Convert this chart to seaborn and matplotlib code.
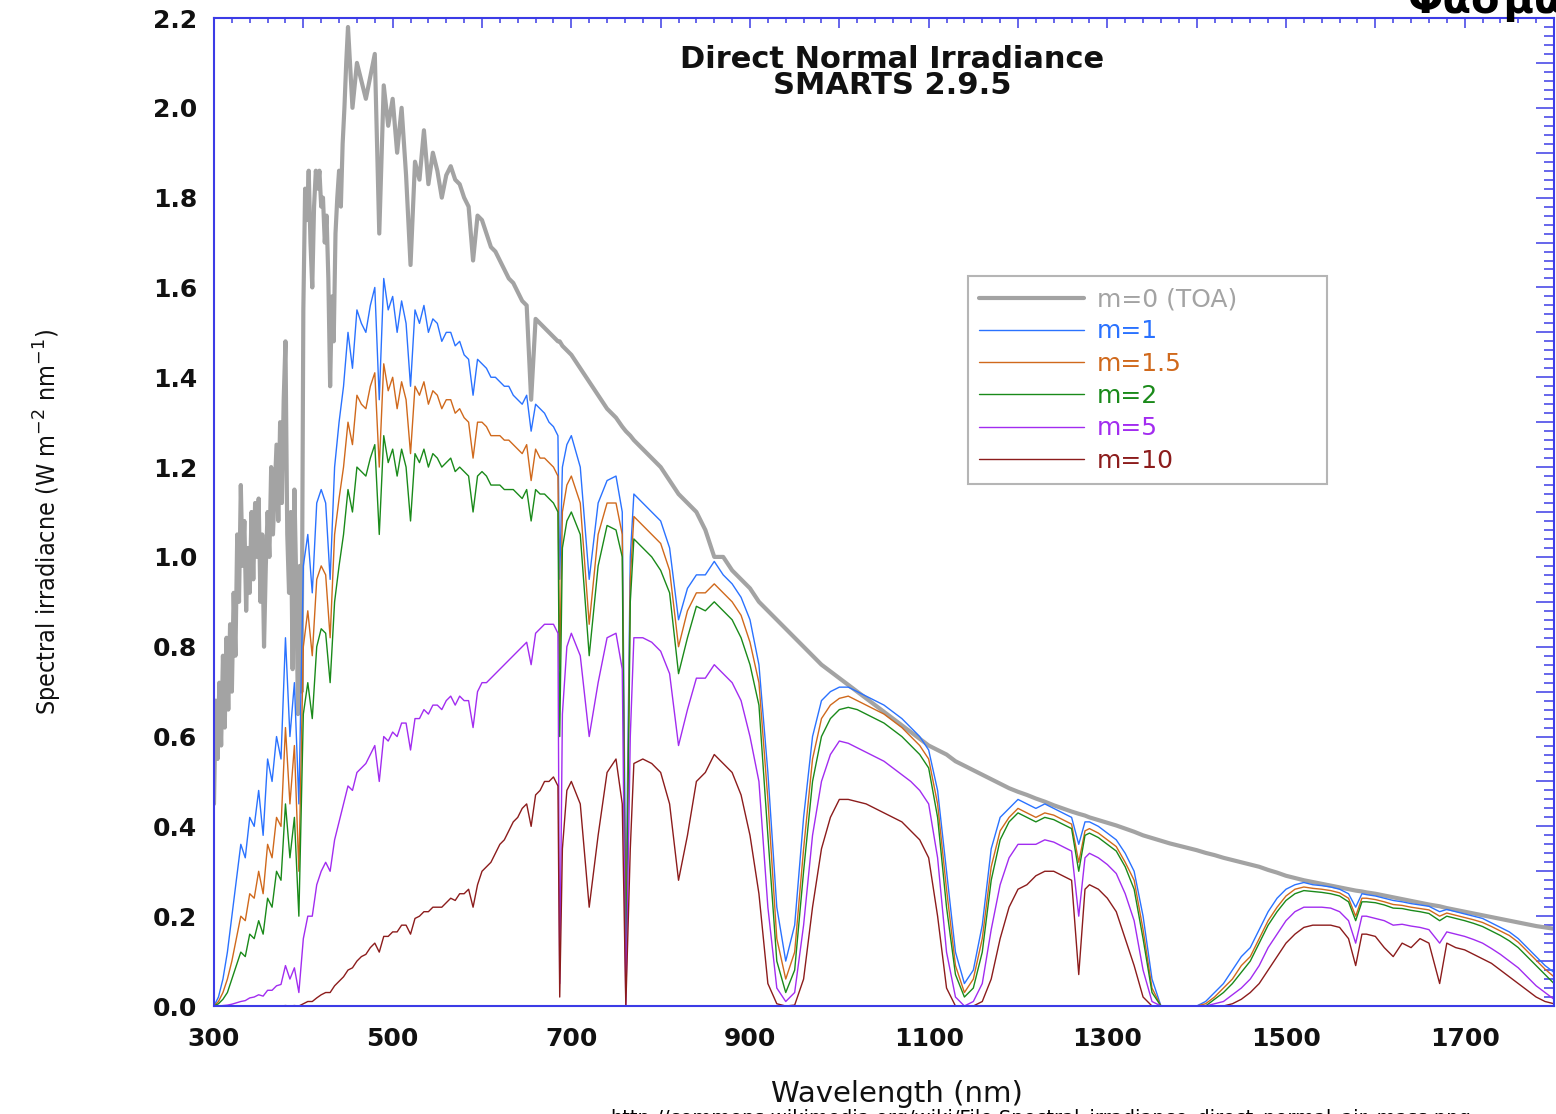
import matplotlib
matplotlib.use("Agg")
import matplotlib.pyplot as plt
import seaborn as sns
import pandas as pd
from matplotlib.ticker import MultipleLocator, FuncFormatter
from matplotlib.lines import Line2D

# ---------------- data ----------------
wavelength_nm = [
    300, 305, 310, 315, 320, 325, 330, 335, 340, 345,
    350, 355, 360, 365, 370, 375, 380, 385, 390, 395,
    400, 405, 410, 415, 420, 425, 430, 435, 440, 445,
    450, 455, 460, 465, 470, 475, 480, 485, 490, 495,
    500, 505, 510, 515, 520, 525, 530, 535, 540, 545,
    550, 555, 560, 565, 570, 575, 580, 585, 590, 595,
    600, 605, 610, 615, 620, 625, 630, 635, 640, 645,
    650, 655, 660, 665, 670, 675, 680, 685, 687, 690,
    695, 700, 710, 720, 730, 740, 750, 757, 761, 766,
    770, 780, 790, 800, 810, 820, 830, 840, 850, 860,
    870, 880, 890, 900, 910, 920, 930, 940, 950, 960,
    970, 980, 990, 1000, 1010, 1020, 1030, 1040, 1050, 1060,
    1070, 1080, 1090, 1100, 1110, 1120, 1130, 1140, 1150, 1160,
    1170, 1180, 1190, 1200, 1210, 1220, 1230, 1240, 1250, 1260,
    1268, 1275, 1280, 1290, 1300, 1310, 1320, 1330, 1340, 1350,
    1360, 1370, 1380, 1390, 1400, 1410, 1420, 1430, 1440, 1450,
    1460, 1470, 1480, 1490, 1500, 1510, 1520, 1530, 1540, 1550,
    1560, 1570, 1578, 1585, 1590, 1600, 1610, 1620, 1630, 1640,
    1650, 1660, 1672, 1680, 1690, 1700, 1710, 1720, 1730, 1740,
    1750, 1760, 1770, 1780, 1790, 1800,
]

# top-of-atmosphere spectrum: finer sampling in the UV (300-448 nm)
toa_uv_nm = [
    300, 302, 304, 306, 308, 310, 312, 314, 316, 318,
    320, 322, 324, 326, 328, 330, 332, 334, 336, 338,
    340, 342, 344, 346, 348, 350, 352, 354, 356, 358,
    360, 362, 364, 366, 368, 370, 372, 374, 376, 378,
    380, 382, 384, 386, 388, 390, 392, 394, 396, 398,
    400, 402, 404, 406, 408, 410, 412, 414, 416, 418,
    420, 422, 424, 426, 428, 430, 432, 434, 436, 438,
    440, 442, 444, 446, 448,
]
toa_uv = [
    0.45, 0.68, 0.55, 0.72, 0.58, 0.78, 0.62, 0.82, 0.66, 0.85,
    0.70, 0.92, 0.78, 1.05, 0.90, 1.16, 0.98, 1.08, 0.88, 1.02,
    0.92, 1.10, 0.95, 1.12, 1.00, 1.13, 0.90, 1.05, 0.80, 0.98,
    1.10, 1.00, 1.20, 1.05, 1.15, 1.25, 1.08, 1.30, 1.12, 1.35,
    1.48, 1.05, 0.92, 1.10, 0.75, 1.15, 0.95, 0.65, 0.98, 0.70,
    1.55, 1.82, 1.75, 1.86, 1.70, 1.60, 1.78, 1.86, 1.82, 1.86,
    1.78, 1.80, 1.70, 1.76, 1.62, 1.38, 1.58, 1.48, 1.72, 1.80,
    1.86, 1.78, 1.92, 2.00, 2.10,
]
# top-of-atmosphere spectrum on wavelength_nm from 450 nm upward
toa_vis_nir = [
    2.18, 2.00, 2.10, 2.06, 2.02, 2.07, 2.12, 1.72, 2.05, 1.96,
    2.02, 1.90, 2.00, 1.85, 1.65, 1.88, 1.84, 1.95, 1.83, 1.90,
    1.86, 1.80, 1.85, 1.87, 1.84, 1.83, 1.80, 1.78, 1.66, 1.76,
    1.75, 1.72, 1.69, 1.68, 1.66, 1.64, 1.62, 1.61, 1.59, 1.57,
    1.56, 1.35, 1.53, 1.52, 1.51, 1.50, 1.49, 1.48, 1.48, 1.47,
    1.46, 1.45, 1.42, 1.39, 1.36, 1.33, 1.31, 1.29, 1.28, 1.27,
    1.26, 1.24, 1.22, 1.20, 1.17, 1.14, 1.12, 1.10, 1.06, 1.00,
    1.00, 0.97, 0.95, 0.93, 0.90, 0.88, 0.86, 0.84, 0.82, 0.80,
    0.78, 0.76, 0.745, 0.73, 0.715, 0.70, 0.685, 0.67, 0.655, 0.64,
    0.625, 0.61, 0.595, 0.58, 0.57, 0.56, 0.545, 0.535, 0.525, 0.515,
    0.505, 0.495, 0.485, 0.477, 0.47, 0.462, 0.455, 0.447, 0.44, 0.433,
    0.428, 0.424, 0.42, 0.414, 0.408, 0.402, 0.395, 0.388, 0.38, 0.374,
    0.368, 0.362, 0.357, 0.352, 0.347, 0.341, 0.336, 0.33, 0.325, 0.32,
    0.315, 0.31, 0.303, 0.297, 0.29, 0.285, 0.28, 0.276, 0.272, 0.268,
    0.264, 0.26, 0.257, 0.255, 0.253, 0.25, 0.246, 0.242, 0.238, 0.234,
    0.23, 0.226, 0.222, 0.218, 0.214, 0.21, 0.206, 0.202, 0.198, 0.194,
    0.19, 0.186, 0.182, 0.178, 0.175, 0.172,
]

m1 = [
    0.00, 0.02, 0.06, 0.12, 0.20, 0.28, 0.36, 0.33, 0.42, 0.40,
    0.48, 0.38, 0.55, 0.50, 0.60, 0.55, 0.82, 0.60, 0.72, 0.45,
    0.98, 1.05, 0.92, 1.12, 1.15, 1.12, 0.95, 1.20, 1.30, 1.38,
    1.50, 1.42, 1.55, 1.52, 1.50, 1.56, 1.60, 1.35, 1.62, 1.55,
    1.58, 1.50, 1.57, 1.52, 1.38, 1.55, 1.52, 1.56, 1.50, 1.53,
    1.52, 1.48, 1.50, 1.50, 1.47, 1.48, 1.45, 1.44, 1.36, 1.44,
    1.43, 1.42, 1.40, 1.40, 1.39, 1.38, 1.38, 1.36, 1.35, 1.34,
    1.36, 1.28, 1.34, 1.33, 1.32, 1.30, 1.29, 1.27, 0.95, 1.20,
    1.25, 1.27, 1.20, 0.95, 1.12, 1.17, 1.18, 1.10, 0.20, 1.00,
    1.14, 1.12, 1.10, 1.08, 1.02, 0.86, 0.93, 0.96, 0.96, 0.99,
    0.96, 0.94, 0.91, 0.86, 0.76, 0.52, 0.22, 0.10, 0.18, 0.42,
    0.60, 0.68, 0.70, 0.71, 0.71, 0.70, 0.69, 0.68, 0.67, 0.655,
    0.64, 0.62, 0.60, 0.57, 0.48, 0.30, 0.12, 0.05, 0.08, 0.18,
    0.35, 0.42, 0.44, 0.46, 0.45, 0.44, 0.45, 0.44, 0.43, 0.42,
    0.36, 0.41, 0.41, 0.40, 0.385, 0.37, 0.34, 0.30, 0.20, 0.06,
    0.0, 0.0, 0.0, 0.0, 0.0, 0.01, 0.03, 0.05, 0.08, 0.11,
    0.13, 0.17, 0.21, 0.24, 0.26, 0.27, 0.275, 0.27, 0.268, 0.265,
    0.26, 0.25, 0.22, 0.25, 0.248, 0.245, 0.24, 0.235, 0.232, 0.228,
    0.225, 0.222, 0.21, 0.215, 0.21, 0.205, 0.20, 0.195, 0.185, 0.175,
    0.165, 0.15, 0.13, 0.11, 0.09, 0.075,
]

m1_5 = [
    0.00, 0.01, 0.03, 0.06, 0.10, 0.15, 0.20, 0.19, 0.25, 0.24,
    0.30, 0.25, 0.36, 0.33, 0.42, 0.40, 0.62, 0.45, 0.58, 0.30,
    0.80, 0.88, 0.78, 0.95, 0.98, 0.96, 0.82, 1.05, 1.13, 1.20,
    1.30, 1.25, 1.36, 1.34, 1.33, 1.38, 1.41, 1.20, 1.43, 1.37,
    1.40, 1.33, 1.39, 1.35, 1.23, 1.38, 1.36, 1.39, 1.34, 1.37,
    1.36, 1.33, 1.35, 1.35, 1.32, 1.33, 1.31, 1.30, 1.22, 1.30,
    1.30, 1.29, 1.27, 1.27, 1.27, 1.26, 1.26, 1.25, 1.24, 1.23,
    1.25, 1.17, 1.24, 1.22, 1.22, 1.21, 1.20, 1.18, 0.75, 1.10,
    1.16, 1.18, 1.12, 0.85, 1.05, 1.12, 1.12, 1.05, 0.10, 0.95,
    1.09, 1.07, 1.05, 1.03, 0.97, 0.80, 0.88, 0.92, 0.92, 0.94,
    0.92, 0.90, 0.87, 0.81, 0.72, 0.46, 0.15, 0.06, 0.12, 0.35,
    0.55, 0.64, 0.67, 0.685, 0.69, 0.68, 0.67, 0.66, 0.65, 0.635,
    0.62, 0.60, 0.58, 0.55, 0.45, 0.26, 0.09, 0.03, 0.06, 0.15,
    0.31, 0.39, 0.42, 0.44, 0.43, 0.42, 0.43, 0.425, 0.415, 0.405,
    0.32, 0.39, 0.395, 0.385, 0.37, 0.355, 0.32, 0.28, 0.17, 0.04,
    0.0, 0.0, 0.0, 0.0, 0.0, 0.005, 0.02, 0.04, 0.06, 0.09,
    0.11, 0.15, 0.19, 0.22, 0.245, 0.26, 0.265, 0.262, 0.26, 0.257,
    0.252, 0.24, 0.20, 0.24, 0.24, 0.237, 0.232, 0.226, 0.224, 0.22,
    0.217, 0.214, 0.20, 0.207, 0.202, 0.197, 0.192, 0.186, 0.177, 0.167,
    0.157, 0.142, 0.122, 0.102, 0.082, 0.065,
]

m2 = [
    0.00, 0.005, 0.015, 0.03, 0.06, 0.09, 0.12, 0.11, 0.16, 0.15,
    0.19, 0.16, 0.24, 0.22, 0.30, 0.28, 0.45, 0.33, 0.42, 0.20,
    0.65, 0.72, 0.64, 0.80, 0.84, 0.83, 0.72, 0.90, 0.98, 1.05,
    1.15, 1.10, 1.20, 1.19, 1.18, 1.22, 1.25, 1.05, 1.27, 1.21,
    1.24, 1.18, 1.24, 1.20, 1.08, 1.23, 1.21, 1.24, 1.20, 1.23,
    1.22, 1.20, 1.21, 1.22, 1.19, 1.20, 1.19, 1.18, 1.10, 1.18,
    1.19, 1.18, 1.16, 1.16, 1.16, 1.15, 1.15, 1.15, 1.14, 1.13,
    1.15, 1.08, 1.15, 1.14, 1.14, 1.13, 1.12, 1.10, 0.60, 1.02,
    1.08, 1.10, 1.05, 0.78, 0.98, 1.07, 1.06, 1.00, 0.05, 0.90,
    1.04, 1.02, 1.00, 0.97, 0.92, 0.74, 0.82, 0.89, 0.88, 0.90,
    0.88, 0.86, 0.82, 0.76, 0.67, 0.38, 0.10, 0.03, 0.08, 0.30,
    0.50, 0.60, 0.64, 0.66, 0.665, 0.66, 0.65, 0.64, 0.63, 0.615,
    0.60, 0.58, 0.56, 0.53, 0.42, 0.22, 0.07, 0.02, 0.04, 0.12,
    0.28, 0.37, 0.41, 0.43, 0.42, 0.41, 0.42, 0.415, 0.405, 0.395,
    0.30, 0.38, 0.385, 0.375, 0.36, 0.345, 0.31, 0.26, 0.15, 0.03,
    0.0, 0.0, 0.0, 0.0, 0.0, 0.0, 0.015, 0.03, 0.05, 0.075,
    0.10, 0.14, 0.18, 0.21, 0.235, 0.25, 0.257, 0.255, 0.253, 0.25,
    0.245, 0.232, 0.19, 0.232, 0.232, 0.23, 0.225, 0.218, 0.217, 0.213,
    0.21, 0.206, 0.19, 0.20, 0.195, 0.19, 0.184, 0.177, 0.167, 0.157,
    0.145, 0.13, 0.11, 0.09, 0.07, 0.05,
]

m5 = [
    0.0, 0.0, 0.001, 0.002, 0.004, 0.007, 0.01, 0.012, 0.018, 0.02,
    0.025, 0.022, 0.035, 0.035, 0.045, 0.048, 0.09, 0.06, 0.085, 0.03,
    0.15, 0.20, 0.20, 0.27, 0.30, 0.32, 0.30, 0.37, 0.41, 0.45,
    0.49, 0.48, 0.52, 0.53, 0.54, 0.56, 0.58, 0.50, 0.60, 0.59,
    0.61, 0.60, 0.63, 0.63, 0.57, 0.64, 0.64, 0.66, 0.65, 0.67,
    0.67, 0.66, 0.68, 0.69, 0.67, 0.69, 0.68, 0.68, 0.62, 0.70,
    0.72, 0.72, 0.73, 0.74, 0.75, 0.76, 0.77, 0.78, 0.79, 0.80,
    0.81, 0.76, 0.83, 0.84, 0.85, 0.85, 0.85, 0.83, 0.05, 0.65,
    0.80, 0.83, 0.78, 0.60, 0.72, 0.82, 0.83, 0.75, 0.0, 0.60,
    0.82, 0.82, 0.81, 0.79, 0.74, 0.58, 0.66, 0.73, 0.73, 0.76,
    0.74, 0.72, 0.68, 0.60, 0.50, 0.22, 0.04, 0.01, 0.03, 0.18,
    0.38, 0.50, 0.56, 0.59, 0.585, 0.575, 0.565, 0.555, 0.545, 0.53,
    0.515, 0.50, 0.48, 0.45, 0.33, 0.12, 0.02, 0.0, 0.01, 0.05,
    0.17, 0.27, 0.33, 0.36, 0.36, 0.36, 0.37, 0.365, 0.355, 0.345,
    0.20, 0.33, 0.34, 0.33, 0.315, 0.295, 0.25, 0.19, 0.08, 0.01,
    0.0, 0.0, 0.0, 0.0, 0.0, 0.0, 0.005, 0.01, 0.025, 0.04,
    0.06, 0.09, 0.13, 0.16, 0.19, 0.21, 0.22, 0.22, 0.22, 0.218,
    0.21, 0.19, 0.14, 0.20, 0.20, 0.195, 0.19, 0.18, 0.182, 0.178,
    0.175, 0.17, 0.14, 0.165, 0.16, 0.155, 0.148, 0.14, 0.128, 0.115,
    0.10, 0.085, 0.065, 0.045, 0.03, 0.015,
]

m10 = [
    0.0, 0.0, 0.0, 0.0, 0.0, 0.0, 0.0, 0.0, 0.0, 0.0,
    0.0, 0.0, 0.0, 0.0, 0.0, 0.0, 0.001, 0.0, 0.001, 0.0,
    0.005, 0.01, 0.01, 0.018, 0.025, 0.03, 0.03, 0.045, 0.055, 0.065,
    0.08, 0.085, 0.10, 0.11, 0.115, 0.13, 0.14, 0.12, 0.155, 0.155,
    0.165, 0.165, 0.18, 0.18, 0.16, 0.195, 0.20, 0.21, 0.21, 0.22,
    0.22, 0.22, 0.23, 0.24, 0.235, 0.25, 0.25, 0.26, 0.22, 0.27,
    0.30, 0.31, 0.32, 0.34, 0.36, 0.37, 0.39, 0.41, 0.42, 0.44,
    0.45, 0.40, 0.47, 0.48, 0.50, 0.50, 0.51, 0.49, 0.02, 0.35,
    0.48, 0.50, 0.45, 0.22, 0.38, 0.52, 0.55, 0.45, 0.0, 0.35,
    0.54, 0.55, 0.54, 0.52, 0.45, 0.28, 0.38, 0.50, 0.52, 0.56,
    0.54, 0.52, 0.47, 0.38, 0.25, 0.05, 0.005, 0.0, 0.002, 0.06,
    0.22, 0.35, 0.42, 0.46, 0.46, 0.455, 0.45, 0.44, 0.43, 0.42,
    0.41, 0.39, 0.37, 0.33, 0.20, 0.04, 0.0, 0.0, 0.0, 0.01,
    0.06, 0.15, 0.22, 0.26, 0.27, 0.29, 0.30, 0.30, 0.29, 0.28,
    0.07, 0.26, 0.27, 0.26, 0.24, 0.21, 0.15, 0.09, 0.02, 0.0,
    0.0, 0.0, 0.0, 0.0, 0.0, 0.0, 0.0, 0.0, 0.005, 0.015,
    0.03, 0.05, 0.08, 0.11, 0.14, 0.16, 0.175, 0.18, 0.18, 0.18,
    0.175, 0.15, 0.09, 0.16, 0.16, 0.155, 0.13, 0.11, 0.14, 0.13,
    0.15, 0.14, 0.05, 0.14, 0.13, 0.125, 0.115, 0.105, 0.095, 0.08,
    0.065, 0.05, 0.035, 0.02, 0.01, 0.005,
]

series_names = ["m=0 (TOA)", "m=1", "m=1.5", "m=2", "m=5", "m=10"]

# ---------------- styles ----------------
colors = ["#a3a3a3", "#2a72ff", "#d0691c", "#1a8a1a", "#a22cf0", "#8c1c1c"]
widths = [3.0, 1.0, 1.0, 1.0, 1.0, 1.0]
frame_color = "#3c3ce6"

toa_nm = toa_uv_nm + [w for w in wavelength_nm if w >= 450]
toa_vals = toa_uv + toa_vis_nir
assert len(toa_nm) == len(toa_vals)

frames = [pd.DataFrame({"wavelength": toa_nm, "irr": toa_vals, "series": series_names[0]})]
for name, vals in zip(series_names[1:], [m1, m1_5, m2, m5, m10]):
    assert len(vals) == len(wavelength_nm)
    frames.append(pd.DataFrame({"wavelength": wavelength_nm, "irr": vals, "series": name}))
df = pd.concat(frames, ignore_index=True)

sns.set_theme(style="white")
plt.rcParams["font.family"] = ["DejaVu Sans"]

W, H = 1556, 1114
fig = plt.figure(figsize=(W / 100, H / 100), dpi=100)
ax = fig.add_axes([214 / W, 1 - 1006 / H, 1340 / W, 988 / H])

for name, col, lw in zip(series_names, colors, widths):
    sub = df[df["series"] == name]
    sns.lineplot(data=sub, x="wavelength", y="irr", color=col, linewidth=lw,
                 ax=ax, estimator=None, sort=False, legend=False)

ax.set_xlim(300, 1800)
ax.set_ylim(0, 2.2)

for sp in ax.spines.values():
    sp.set_color(frame_color)
    sp.set_linewidth(1.5)

ax.xaxis.set_major_locator(MultipleLocator(100))
ax.xaxis.set_minor_locator(MultipleLocator(20))
ax.yaxis.set_major_locator(MultipleLocator(0.1))
ax.yaxis.set_minor_locator(MultipleLocator(0.02))
ax.xaxis.set_major_formatter(FuncFormatter(
    lambda v, p: f"{int(round(v))}" if int(round(v)) % 200 == 100 else ""))
ax.yaxis.set_major_formatter(FuncFormatter(
    lambda v, p: f"{v:.1f}" if int(round(v * 10)) % 2 == 0 else ""))

ax.tick_params(axis="both", which="both", direction="in", top=True, right=True,
               color=frame_color, width=1.1, labelcolor="#111111")
ax.tick_params(axis="x", which="major", length=7.5, pad=15, labelsize=18)
ax.tick_params(axis="x", which="minor", length=3.8)
ax.tick_params(axis="y", which="major", length=13, pad=12, labelsize=18)
ax.tick_params(axis="y", which="minor", length=7)
for lab in ax.get_xticklabels() + ax.get_yticklabels():
    lab.set_fontweight("bold")

ax.set_xlabel("Wavelength (nm)", fontsize=21, color="#111111")
ax.xaxis.set_label_coords(0.51, -0.089)
ax.xaxis.label.set_va("center")

ax.set_ylabel("Spectral irradiacne (W m$^{-2}$ nm$^{-1}$)", fontsize=18,
              color="#111111", fontstretch="condensed")
ax.yaxis.set_label_coords(-0.124, 0.49)
ax.yaxis.label.set_va("center")

ax.text(0.506, (1006 - 60) / 988, "Direct Normal Irradiance", transform=ax.transAxes,
        ha="center", va="center", fontsize=22, fontweight="bold", color="#111111")
ax.text(0.506, (1006 - 86) / 988, "SMARTS 2.9.5", transform=ax.transAxes,
        ha="center", va="center", fontsize=22, fontweight="bold", color="#111111")

handles = [Line2D([0], [0], color=c, lw=lw) for c, lw in zip(colors, widths)]
leg = ax.legend(handles, series_names, loc="upper left",
                bbox_to_anchor=((968 - 214) / 1340, (1006 - 482) / 988,
                                (1327 - 968) / 1340, (482 - 276) / 988),
                mode="expand", borderaxespad=0, fontsize=18, handlelength=4.2,
                handletextpad=0.5, labelspacing=0.33, borderpad=0.45,
                fancybox=False, framealpha=1, edgecolor="#b5b5b5")
leg.get_frame().set_linewidth(1.5)
for txt, c in zip(leg.get_texts(), colors):
    txt.set_color(c)

fig.text(1408 / W, 1 - 13 / H, "Φασματική", fontsize=30, fontweight="bold",
         ha="left", va="baseline", color="black")
fig.text(610 / W, 1 - 1124 / H,
         "http://commons.wikimedia.org/wiki/File:Spectral_irradiance_direct_normal_air_mass.png",
         fontsize=14, ha="left", va="baseline", color="black")

fig.savefig("out.png", dpi=100, facecolor="white")
